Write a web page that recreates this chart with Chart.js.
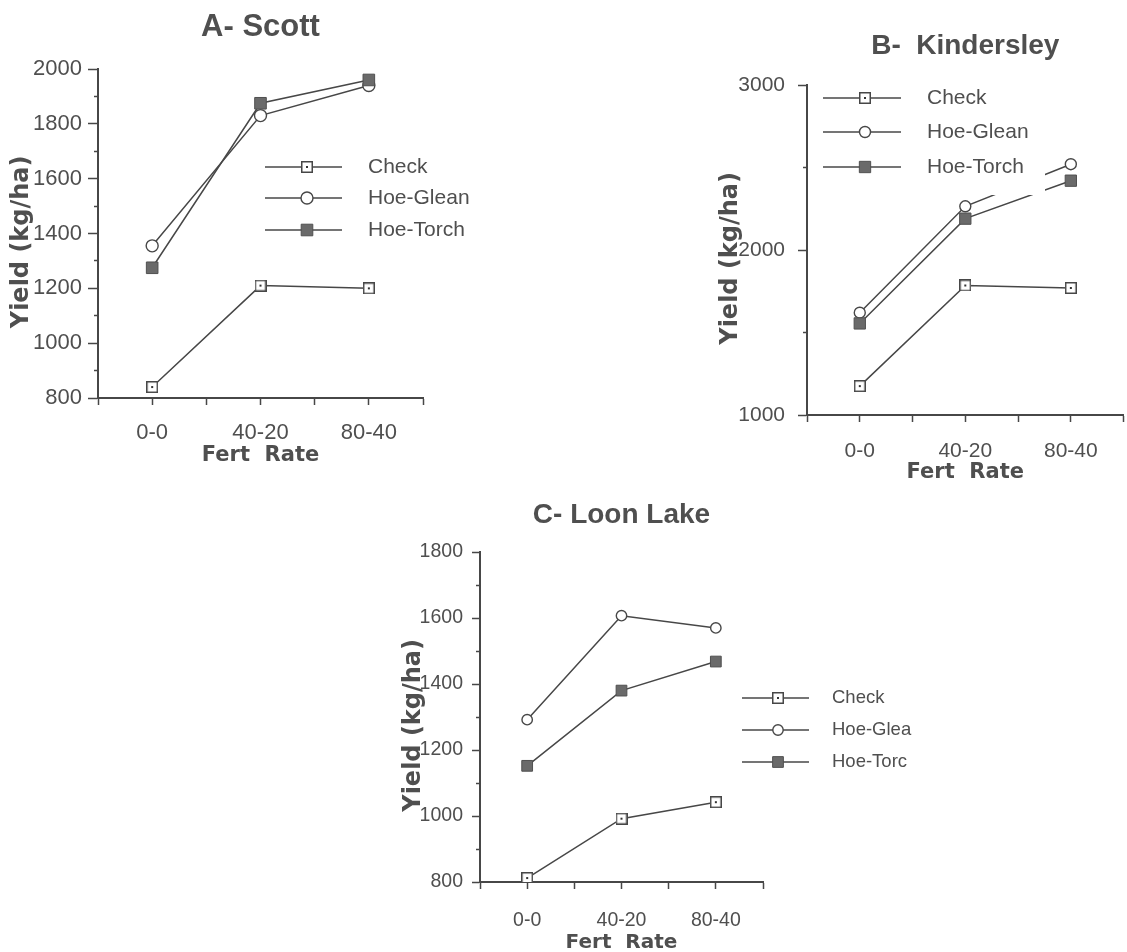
<!DOCTYPE html>
<html><head><meta charset="utf-8">
<script src="https://cdn.jsdelivr.net/npm/chart.js@4.4.0/dist/chart.umd.min.js"></script>
<style>
html,body{margin:0;padding:0;background:#fff;overflow:hidden;width:1127px;height:952px;}
canvas{position:absolute;left:0;top:0;}
</style></head><body>
<canvas id="cA" width="1140" height="970"></canvas>
<canvas id="cB" width="1140" height="970"></canvas>
<canvas id="cC" width="1140" height="970"></canvas>
<script>
// ---- data ----
const categories = ['0-0', '40-20', '80-40'];
const seriesNames = ['Check', 'Hoe-Glean', 'Hoe-Torch'];
const seriesNamesC = ['Check', 'Hoe-Glea', 'Hoe-Torc'];
const xAxisTitle = 'Fert  Rate';
const yAxisTitle = 'Yield (kg/ha)';

const scottCheck = [840, 1210, 1200];
const scottGlean = [1355, 1830, 1940];
const scottTorch = [1275, 1875, 1960];
const scottYLabels = [800, 1000, 1200, 1400, 1600, 1800, 2000];

const kinderCheck = [1175, 1785, 1770];
const kinderGlean = [1620, 2265, 2520];
const kinderTorch = [1555, 2190, 2420];
const kinderYLabels = [1000, 2000, 3000];

const loonCheck = [812, 992, 1042];
const loonGlean = [1292, 1607, 1570];
const loonTorch = [1152, 1380, 1468];
const loonYLabels = [800, 1000, 1200, 1400, 1600, 1800];

// ---- styles ----
const INK = '#474747';
const TXT = '#4f4f4f';
const SANS = '"Liberation Sans", Arial, sans-serif';
const WIDE = '"DejaVu Sans", sans-serif';

function makeCheckMarker(size) {
  const c = document.createElement('canvas');
  c.width = size; c.height = size;
  const g = c.getContext('2d');
  g.fillStyle = '#fff'; g.fillRect(0, 0, size, size);
  g.strokeStyle = INK; g.lineWidth = 1.5;
  g.strokeRect(0.75, 0.75, size - 1.5, size - 1.5);
  g.fillStyle = '#333';
  g.fillRect(size / 2 - 1, size / 2 - 1, 2, 2);
  return c;
}
const checkMarker = makeCheckMarker(12);

const lineLegend = {
  id: 'lineLegend',
  afterDatasetsDraw(chart, args, o) {
    if (!o || !o.ys) return;
    const ctx = chart.ctx;
    ctx.save();
    if (o.bg) { ctx.fillStyle = '#fff'; ctx.fillRect(o.bg[0], o.bg[1], o.bg[2], o.bg[3]); }
    chart.data.datasets.forEach((ds, i) => {
      const y = o.ys[i];
      ctx.strokeStyle = ds.borderColor; ctx.lineWidth = ds.borderWidth;
      ctx.beginPath(); ctx.moveTo(o.x1, y); ctx.lineTo(o.x2, y); ctx.stroke();
      ctx.fillStyle = ds.pointBackgroundColor; ctx.strokeStyle = ds.pointBorderColor; ctx.lineWidth = ds.pointBorderWidth;
      Chart.helpers.drawPoint(ctx, {pointStyle: ds.pointStyle, radius: ds.pointRadius, rotation: 0, borderWidth: ds.pointBorderWidth}, o.mx, y);
      ctx.fillStyle = TXT; ctx.font = o.font; ctx.textBaseline = 'middle'; ctx.textAlign = 'left';
      ctx.fillText(o.names[i], o.tx, y);
    });
    ctx.restore();
  }
};
Chart.register(lineLegend);

function toPoints(vals) { return vals.map((v, i) => ({x: 2 * i + 1, y: v})); }

function makeChart(id, c) {
  const datasets = [
    {label: c.names[0], data: toPoints(c.check), borderColor: INK, borderWidth: 1.5,
     pointStyle: checkMarker, pointRadius: 6, pointBackgroundColor: '#fff', pointBorderColor: INK, pointBorderWidth: 1.5, order: 0},
    {label: c.names[1], data: toPoints(c.glean), borderColor: INK, borderWidth: 1.5,
     pointStyle: 'circle', pointRadius: c.circR, pointBackgroundColor: '#fff', pointBorderColor: INK, pointBorderWidth: 1.4, order: 2},
    {label: c.names[2], data: toPoints(c.torch), borderColor: INK, borderWidth: 1.5,
     pointStyle: 'rect', pointRadius: c.rectR, pointBackgroundColor: '#6a6a6a', pointBorderColor: '#505050', pointBorderWidth: 1, order: 1}
  ];
  return new Chart(document.getElementById(id), {
    type: 'line',
    data: {datasets},
    options: {
      responsive: false, animation: false, devicePixelRatio: 1, events: [],
      layout: {padding: c.pad},
      plugins: {
        legend: {display: false}, tooltip: {enabled: false},
        title: {display: true, text: c.title, color: TXT, fullSize: false,
          font: {family: SANS, size: c.titleSize, weight: 'bold', lineHeight: 1.2},
          padding: {top: c.titlePad[0], bottom: c.titlePad[1]}},
        lineLegend: c.legend
      },
      scales: {
        x: {
          type: 'linear', min: 0, max: 6,
          afterFit: s => { s.height = c.xH; },
          border: {display: true, color: INK, width: 2},
          grid: {drawOnChartArea: false, tickLength: 7, tickColor: INK, tickWidth: 1.5},
          ticks: {stepSize: 1, autoSkip: false, maxRotation: 0, color: TXT, padding: c.xTickPad,
            font: {family: SANS, size: c.tickSize, lineHeight: 1.2},
            callback: v => (v % 2 === 1 ? categories[(v - 1) / 2] : '')},
          title: {display: true, text: xAxisTitle, color: TXT,
            font: {family: WIDE, size: c.xTitleSize, weight: 'bold', lineHeight: 1.2},
            padding: {top: 0, bottom: c.xTitlePad}}
        },
        y: {
          type: 'linear', min: c.yMin, max: c.yMax,
          afterFit: s => { s.width = c.yW; },
          border: {display: true, color: INK, width: 2},
          grid: {drawOnChartArea: false, tickLength: c.yTl, tickColor: INK, tickWidth: 1.5,
            tickBorderDash: ctx => (ctx.tick && c.yLabels.includes(ctx.tick.value) ? [] : [0, c.yTl - 4, 4, 200])},
          ticks: {stepSize: c.minor, autoSkip: false, color: TXT, padding: c.yTickPad,
            font: {family: SANS, size: c.tickSize, lineHeight: 1.2},
            callback: v => (c.yLabels.includes(v) ? String(v) : '')},
          title: {display: true, text: yAxisTitle + '  ', color: TXT,
            font: {family: WIDE, size: 24, weight: 'bold', lineHeight: 1.2},
            padding: {top: c.yTitlePad, bottom: 0}}
        }
      }
    }
  });
}

makeChart('cA', {
  names: seriesNames, check: scottCheck, glean: scottGlean, torch: scottTorch,
  circR: 6, rectR: 8.2,
  yMin: 800, yMax: 2000, minor: 100, yLabels: scottYLabels,
  pad: {left: 0, right: 717, top: 0, bottom: 502},
  title: 'A- Scott', titleSize: 31, titlePad: [8.4, 23.4],
  xH: 70, yW: 98, yTl: 10, yTickPad: 6, xTickPad: 14.4, tickSize: 22,
  xTitleSize: 21, xTitlePad: 0, yTitlePad: 7.6,
  legend: {x1: 265, x2: 342, mx: 307, tx: 368, ys: [167, 198, 230], font: '21px ' + SANS, names: seriesNames}
});

makeChart('cB', {
  names: seriesNames, check: kinderCheck, glean: kinderGlean, torch: kinderTorch,
  circR: 5.5, rectR: 8,
  yMin: 1000, yMax: 3000, minor: 500, yLabels: kinderYLabels,
  pad: {left: 700, right: 9, top: 0, bottom: 485},
  title: 'B-  Kindersley', titleSize: 28, titlePad: [29.2, 22.2],
  xH: 70, yW: 107, yTl: 9, yTickPad: 13, xTickPad: 16.4, tickSize: 21,
  xTitleSize: 21, xTitlePad: 0, yTitlePad: 16.6,
  legend: {x1: 823, x2: 901, mx: 865, tx: 927, ys: [98, 132, 167], font: '21px ' + SANS, names: seriesNames,
    bg: [815, 86, 230, 109]}
});

makeChart('cC', {
  names: seriesNamesC, check: loonCheck, glean: loonGlean, torch: loonTorch,
  circR: 5.2, rectR: 7.6,
  yMin: 800, yMax: 1800, minor: 100, yLabels: loonYLabels,
  pad: {left: 390, right: 377, top: 480, bottom: 14},
  title: 'C- Loon Lake', titleSize: 28, titlePad: [18.2, 20.2],
  xH: 74, yW: 90, yTl: 8, yTickPad: 9, xTickPad: 20.3, tickSize: 19.5,
  xTitleSize: 20, xTitlePad: 1, yTitlePad: 9.6,
  legend: {x1: 742, x2: 809, mx: 778, tx: 832, ys: [698, 730, 762], font: '18.5px ' + SANS, names: seriesNamesC}
});
</script>
</body></html>
